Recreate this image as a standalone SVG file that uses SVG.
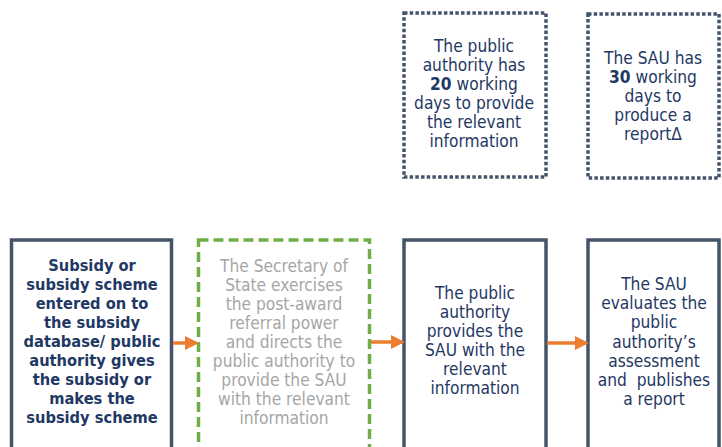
<svg xmlns="http://www.w3.org/2000/svg" width="722" height="447" viewBox="0 0 722 447">
<style>
.box{fill:#fff;stroke:#44546A;stroke-width:3.5}
.dot{fill:#fff;stroke:#44546A;stroke-width:3.5;stroke-dasharray:3.5 2.2}
.green{fill:#fff;stroke:#70AD47;stroke-width:3.5;stroke-dasharray:10 5}
text{font-family:"DejaVu Sans Condensed","DejaVu Sans",sans-serif;font-size:17.2px;text-anchor:middle;fill:#1F3864}
text.b{font-weight:bold;font-size:16.3px}
tspan.b{font-weight:bold}
.g{fill:#A6A6A6}
.arr{stroke:#ED7D31;stroke-width:3.5;fill:none}
</style>
<defs>
<marker id="ah" markerWidth="4" markerHeight="4" refX="3.2" refY="2" orient="auto" markerUnits="strokeWidth">
<path d="M0,0 L4,2 L0,4 Z" fill="#ED7D31"/>
</marker>
</defs>
<rect width="722" height="447" fill="#fff"/>
<g id="note1">
<rect class="dot" x="404" y="13" width="142" height="164"/>
<text x="474" y="52">The public</text>
<text x="474" y="71">authority has</text>
<text x="474" y="90"><tspan class="b">20</tspan> working</text>
<text x="474" y="109">days to provide</text>
<text x="474" y="128">the relevant</text>
<text x="474" y="147">information</text>
</g>
<g id="note2">
<rect class="dot" x="588" y="14" width="131" height="164"/>
<text x="653" y="64">The SAU has</text>
<text x="653" y="83"><tspan class="b">30</tspan> working</text>
<text x="653" y="102">days to</text>
<text x="653" y="121">produce a</text>
<text x="653" y="140">reportΔ</text>
</g>
<g id="step1">
<rect class="box" x="11.5" y="240" width="160" height="215"/>
<text class="b" x="92" y="271">Subsidy or</text>
<text class="b" x="92" y="290">subsidy scheme</text>
<text class="b" x="92" y="309">entered on to</text>
<text class="b" x="92" y="328">the subsidy</text>
<text class="b" x="92" y="347">database/ public</text>
<text class="b" x="92" y="366">authority gives</text>
<text class="b" x="92" y="385">the subsidy or</text>
<text class="b" x="92" y="404">makes the</text>
<text class="b" x="92" y="423">subsidy scheme</text>
</g>
<g id="step2">
<rect class="green" x="198.5" y="240" width="171" height="215"/>
<text class="g" x="284" y="272">The Secretary of</text>
<text class="g" x="284" y="291">State exercises</text>
<text class="g" x="284" y="310">the post-award</text>
<text class="g" x="284" y="329">referral power</text>
<text class="g" x="284" y="348">and directs the</text>
<text class="g" x="284" y="367">public authority to</text>
<text class="g" x="284" y="386">provide the SAU</text>
<text class="g" x="284" y="405">with the relevant</text>
<text class="g" x="284" y="424">information</text>
</g>
<g id="step3">
<rect class="box" x="404" y="240" width="142" height="215"/>
<text x="475" y="299">The public</text>
<text x="475" y="318">authority</text>
<text x="475" y="337">provides the</text>
<text x="475" y="356">SAU with the</text>
<text x="475" y="375">relevant</text>
<text x="475" y="394">information</text>
</g>
<g id="step4">
<rect class="box" x="588" y="240" width="131" height="215"/>
<text x="654" y="290">The SAU</text>
<text x="654" y="309.2">evaluates the</text>
<text x="654" y="328.4">public</text>
<text x="654" y="347.6">authority’s</text>
<text x="654" y="366.8">assessment</text>
<text x="654" y="386">and&#160; publishes</text>
<text x="654" y="405.2">a report</text>
</g>
<g id="connectors">
<line class="arr" x1="173" y1="343" x2="196" y2="343" marker-end="url(#ah)"/>
<line class="arr" x1="371" y1="342" x2="402" y2="342" marker-end="url(#ah)"/>
<line class="arr" x1="547" y1="343" x2="586" y2="343" marker-end="url(#ah)"/>
</g>
</svg>
